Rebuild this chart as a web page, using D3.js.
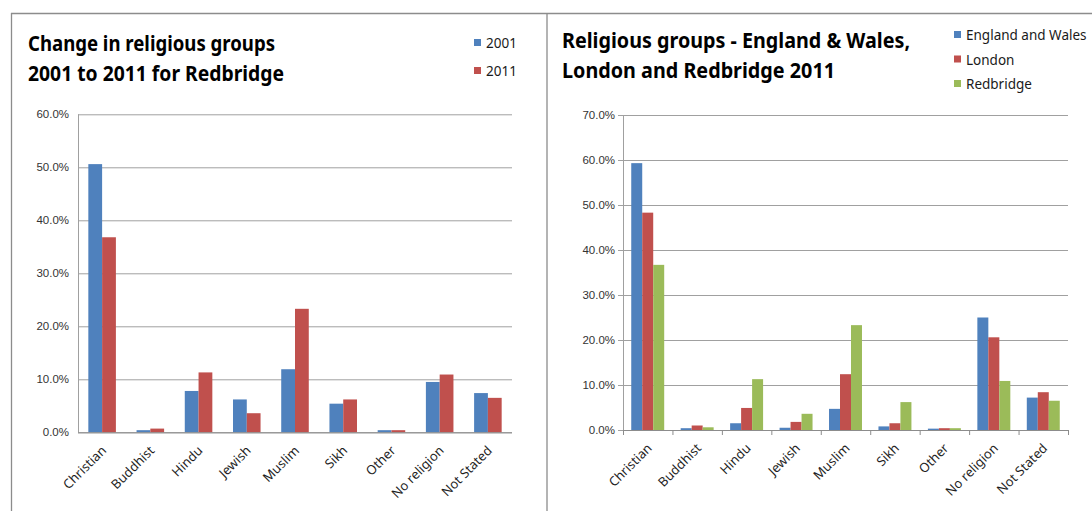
<!DOCTYPE html>
<html>
<head>
<meta charset="utf-8">
<script src="https://cdn.jsdelivr.net/npm/d3@7"></script>
<style>
  body { margin: 0; background: #fff; }
  svg { display: block; font-family: "Noto Sans", "Open Sans", sans-serif; }
</style>
</head>
<body>
<div id="chart"></div>
<script>
// data
const religions = ["Christian", "Buddhist", "Hindu", "Jewish", "Muslim", "Sikh", "Other", "No religion", "Not Stated"];

// left chart: Redbridge 2001 vs 2011
const redbridge2001 = [0.506, 0.004, 0.078, 0.062, 0.119, 0.054, 0.004, 0.095, 0.074];
const redbridge2011 = [0.368, 0.007, 0.113, 0.036, 0.233, 0.062, 0.004, 0.109, 0.065];
const leftSeries = ["2001", "2011"];
const leftTicks = [0, 0.1, 0.2, 0.3, 0.4, 0.5, 0.6];

// right chart: 2011 comparison
const englandWales = [0.593, 0.004, 0.015, 0.005, 0.047, 0.008, 0.003, 0.250, 0.072];
const london = [0.483, 0.010, 0.049, 0.018, 0.124, 0.015, 0.004, 0.206, 0.084];
const redbridge = [0.367, 0.006, 0.113, 0.036, 0.233, 0.062, 0.004, 0.109, 0.065];
const rightSeries = ["England and Wales", "London", "Redbridge"];
const rightTicks = [0, 0.1, 0.2, 0.3, 0.4, 0.5, 0.6, 0.7];

const colors = ["#4F81BD", "#C0504D", "#9BBB59"];
const W = 1092, H = 511;

const svg = d3.select("#chart").append("svg")
    .attr("width", W)
    .attr("height", H);

// panel frames
const frame = "#8c8c8c";
svg.append("line").attr("x1", 11).attr("x2", W).attr("y1", 13.5).attr("y2", 13.5)
    .attr("stroke", frame).attr("stroke-width", 1.3);
svg.append("line").attr("x1", 11.5).attr("x2", 11.5).attr("y1", 13).attr("y2", H)
    .attr("stroke", frame).attr("stroke-width", 1.3);
svg.append("line").attr("x1", 547).attr("x2", 547).attr("y1", 13).attr("y2", H)
    .attr("stroke", frame).attr("stroke-width", 1.3);

function drawChart(cfg) {
    const g = svg.append("g");

    const x = d3.scaleBand()
        .domain(religions)
        .range([cfg.left, cfg.right])
        .padding(0);

    const n = cfg.series.length;
    const barW = x.bandwidth() / (n + 1.5);
    const xInner = d3.scaleBand()
        .domain(d3.range(n))
        .range([barW * 0.75, barW * 0.75 + barW * n]);

    const y = d3.scaleLinear()
        .domain([0, d3.max(cfg.ticks)])
        .range([cfg.bottom, cfg.top]);

    // gridlines + y labels
    const yAxis = d3.axisLeft(y)
        .tickValues(cfg.ticks)
        .tickFormat(d3.format(".1%"))
        .tickSize(-(cfg.right - cfg.left))
        .tickPadding(cfg.yTick ? 8 : 9);

    const ya = g.append("g")
        .attr("transform", `translate(${cfg.left},0)`)
        .call(yAxis);
    ya.select(".domain").remove();
    ya.selectAll(".tick line")
        .attr("stroke", "#a0a0a0")
        .attr("x1", cfg.yTick ? -5 : 0);
    ya.selectAll(".tick text")
        .attr("fill", "#333")
        .style("font-size", "11.5px");

    // vertical axis line
    g.append("line")
        .attr("x1", cfg.left + 0.5).attr("x2", cfg.left + 0.5)
        .attr("y1", cfg.top).attr("y2", cfg.bottom)
        .attr("stroke", "#a0a0a0");

    // bars
    cfg.values.forEach((vals, si) => {
        g.selectAll(".bar" + si)
            .data(religions.map((r, i) => ({ r, v: vals[i] })))
            .join("rect")
            .attr("class", "bar" + si)
            .attr("x", d => x(d.r) + xInner(si))
            .attr("width", xInner.bandwidth())
            .attr("y", d => y(d.v))
            .attr("height", d => cfg.bottom - y(d.v))
            .attr("fill", colors[si]);
    });

    // x axis line
    g.append("line")
        .attr("x1", cfg.left).attr("x2", cfg.right)
        .attr("y1", cfg.bottom + 0.5).attr("y2", cfg.bottom + 0.5)
        .attr("stroke", "#8c8c8c");

    if (cfg.xTick) {
        g.selectAll(".xtick")
            .data(religions.concat(["end"]))
            .join("line")
            .attr("class", "xtick")
            .attr("x1", (d, i) => cfg.left + i * x.bandwidth() + 0.5)
            .attr("x2", (d, i) => cfg.left + i * x.bandwidth() + 0.5)
            .attr("y1", cfg.bottom)
            .attr("y2", cfg.bottom + 5)
            .attr("stroke", "#8c8c8c");
    }

    // category labels
    g.selectAll(".cat")
        .data(religions)
        .join("text")
        .attr("class", "cat")
        .attr("transform", d => `translate(${x(d) + x.bandwidth() / 2 + 5},${cfg.bottom + 19}) rotate(-45)`)
        .attr("text-anchor", "end")
        .attr("fill", "#1f1f1f")
        .style("font-size", "13px")
        .text(d => d);

    // title
    cfg.title.forEach((t, i) => {
        g.append("text")
            .attr("x", cfg.titleX)
            .attr("y", cfg.titleY + i * 30)
            .attr("textLength", cfg.titleLen[i])
            .attr("lengthAdjust", "spacingAndGlyphs")
            .attr("fill", "#000")
            .style("font-size", "21px")
            .style("font-weight", "bold")
            .text(t);
    });

    // legend
    const lg = g.selectAll(".leg")
        .data(cfg.series)
        .join("g")
        .attr("class", "leg")
        .attr("transform", (d, i) => `translate(${cfg.legX},${cfg.legY + i * cfg.legStep})`);
    lg.append("rect")
        .attr("x", 0).attr("y", -9)
        .attr("width", 7).attr("height", 7)
        .attr("fill", (d, i) => colors[i]);
    lg.append("text")
        .attr("x", 12).attr("y", 0)
        .attr("fill", "#1a1a1a")
        .style("font-size", "13.5px")
        .text(d => d);
}

drawChart({
    left: 78, right: 512, top: 114.3, bottom: 432.3,
    ticks: leftTicks,
    series: leftSeries,
    values: [redbridge2001, redbridge2011],
    yTick: false, xTick: false,
    title: ["Change in religious groups", "2001 to 2011 for Redbridge"],
    titleX: 28, titleY: 51, titleLen: [247, 256],
    legX: 474, legY: 48, legStep: 28
});

drawChart({
    left: 623, right: 1068, top: 115, bottom: 430,
    ticks: rightTicks,
    series: rightSeries,
    values: [englandWales, london, redbridge],
    yTick: true, xTick: true,
    title: ["Religious groups - England & Wales,", "London and Redbridge 2011"],
    titleX: 562, titleY: 48, titleLen: [348, 273],
    legX: 954, legY: 40, legStep: 24.5
});
</script>
</body>
</html>
